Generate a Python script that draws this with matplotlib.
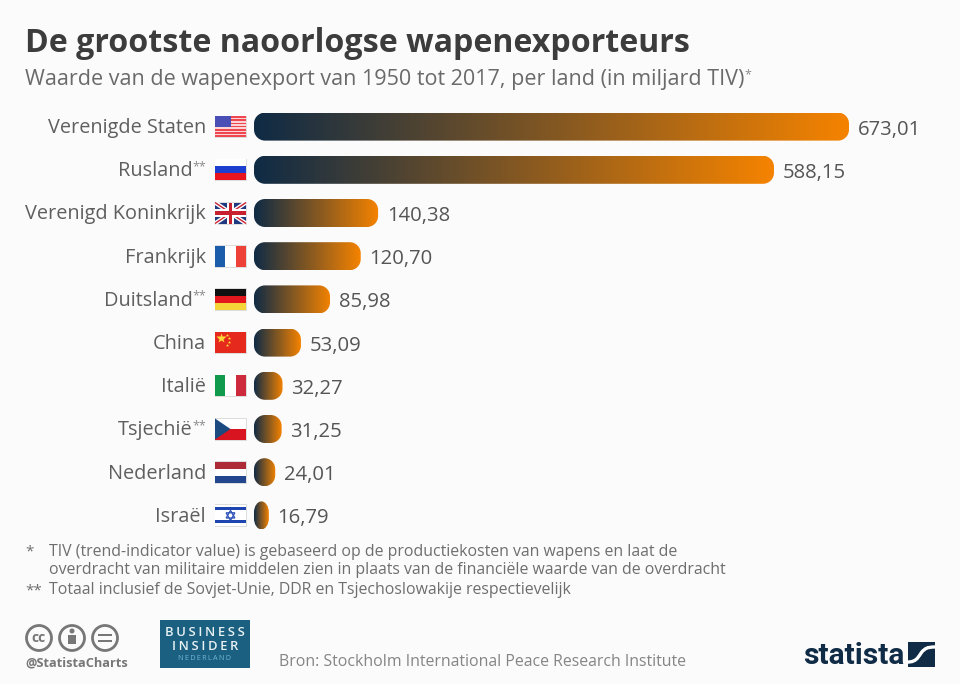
import numpy as np
import matplotlib
matplotlib.use('Agg')
import matplotlib.pyplot as plt
from matplotlib.colors import LinearSegmentedColormap
from matplotlib.patches import Rectangle, Circle, Polygon, PathPatch
from matplotlib.path import Path

plt.rcParams['font.family'] = ['Open Sans', 'DejaVu Sans']

countries = ['Verenigde Staten', 'Rusland', 'Verenigd Koninkrijk', 'Frankrijk', 'Duitsland',
             'China', 'Italië', 'Tsjechië', 'Nederland', 'Israël']
values = [673.01, 588.15, 140.38, 120.70, 85.98, 53.09, 32.27, 31.25, 24.01, 16.79]
has_note = [False, True, False, False, True, False, False, True, False, False]
flags = ['us', 'ru', 'uk', 'fr', 'de', 'cn', 'it', 'cz', 'nl', 'il']

title = 'De grootste naoorlogse wapenexporteurs'
subtitle = 'Waarde van de wapenexport van 1950 tot 2017, per land (in miljard TIV)'
notes = ['TIV (trend-indicator value) is gebaseerd op de productiekosten van wapens en laat de',
         'overdracht van militaire middelen zien in plaats van de financiële waarde van de overdracht',
         'Totaal inclusief de Sovjet-Unie, DDR en Tsjechoslowakije respectievelijk']
source = 'Bron: Stockholm International Peace Research Institute'

BG = '#fbfbfb'
NAVY = '#0f2b45'
W, H = 960, 684

fig = plt.figure(figsize=(9.6, 6.84), dpi=100, facecolor=BG)

# overlay in pixel coordinates for text, flags and logos
bg = fig.add_axes([0, 0, 1, 1])
bg.set_xlim(0, W)
bg.set_ylim(H, 0)
bg.axis('off')

# bar axes: x=254..849 px is 0..673.01
top, row = 105, 43.2
ax = fig.add_axes([254 / W, 1 - (top + row * 10) / H, 595 / W, row * 10 / H])
ax.set_xlim(0, 673.01)
ax.set_ylim(9.5, -0.5)
ax.axis('off')

cmap = LinearSegmentedColormap.from_list('bar', [NAVY, '#f58300'])
grad = np.linspace(0, 1, 256).reshape(1, -1)
ppu = 595 / 673.01


def rounded(x0, y0, w, h, rx, ry):
    k = 0.5523
    x1, y1 = x0 + w, y0 + h
    verts = [(x0 + rx, y0), (x1 - rx, y0),
             (x1 - rx + k * rx, y0), (x1, y0 + ry - k * ry), (x1, y0 + ry),
             (x1, y1 - ry),
             (x1, y1 - ry + k * ry), (x1 - rx + k * rx, y1), (x1 - rx, y1),
             (x0 + rx, y1),
             (x0 + rx - k * rx, y1), (x0, y1 - ry + k * ry), (x0, y1 - ry),
             (x0, y0 + ry),
             (x0, y0 + ry - k * ry), (x0 + rx - k * rx, y0), (x0 + rx, y0),
             (x0 + rx, y0)]
    codes = [Path.MOVETO, Path.LINETO, Path.CURVE4, Path.CURVE4, Path.CURVE4, Path.LINETO,
             Path.CURVE4, Path.CURVE4, Path.CURVE4, Path.LINETO,
             Path.CURVE4, Path.CURVE4, Path.CURVE4, Path.LINETO,
             Path.CURVE4, Path.CURVE4, Path.CURVE4, Path.CLOSEPOLY]
    return Path(verts, codes)


bars = ax.barh(range(len(values)), values, height=28 / row, facecolor='none', edgecolor='none')
for b in bars:
    x, y, w, h = b.get_x(), b.get_y(), b.get_width(), b.get_height()
    clip = PathPatch(rounded(x, y, w, h, min(11 / ppu, w / 2), 11 / row),
                     transform=ax.transData, facecolor='none', edgecolor='none')
    ax.add_patch(clip)
    im = ax.imshow(grad, cmap=cmap, extent=(x, x + w, y + h, y), aspect='auto', interpolation='bilinear')
    im.set_clip_path(clip)
ax.set_xlim(0, 673.01)
ax.set_ylim(9.5, -0.5)

for i, v in enumerate(values):
    ax.annotate(f'{v:.2f}'.replace('.', ','), (v, i), xytext=(6.3, -2.2), textcoords='offset points',
                va='center', ha='left', fontsize=14.6, color='#555555', annotation_clip=False)

ys = [top + row * (i + 0.5) for i in range(len(values))]

for name, y, n in zip(countries, ys, has_note):
    right = 193 if n else 206
    bg.text(right, y + 1.5, name, ha='right', va='center', fontsize=14.35, color='#5f5f5f')
    if n:
        bg.text(206, y - 3.5, '**', ha='right', va='center', fontsize=9, color='#8a8a8a')


def flag(kind, y):
    x0, x1, y0, y1 = 215, 246, y - 10.5, y + 10.5
    fw, fh = x1 - x0, y1 - y0
    z = 3
    bg.add_patch(Rectangle((x0 - 0.5, y0 - 0.5), fw + 1.5, fh + 1.5, fc='#dddddd', ec='none', zorder=2))

    def r(a, b, c, d, col):
        bg.add_patch(Rectangle((x0 + a * fw, y0 + b * fh), c * fw, d * fh, fc=col, ec='none', zorder=z))

    if kind == 'us':
        for k in range(13):
            r(0, k / 13, 1, 1 / 13, '#f0464f' if k % 2 == 0 else '#fbd5d5')
        r(0, 0, 0.5, 7 / 13, '#4a4fb5')
    elif kind == 'ru':
        r(0, 0, 1, 1 / 3, '#ffffff')
        r(0, 1 / 3, 1, 1 / 3, '#1c3fd0')
        r(0, 2 / 3, 1, 1 / 3, '#e8141e')
    elif kind == 'uk':
        r(0, 0, 1, 1, '#1f3a80')
        bg.plot([x0, x1], [y0, y1], color='white', lw=3, zorder=z, solid_capstyle='butt')
        bg.plot([x0, x1], [y1, y0], color='white', lw=3, zorder=z, solid_capstyle='butt')
        bg.plot([x0, x1], [y0, y1], color='#c8202f', lw=1, zorder=z, solid_capstyle='butt')
        bg.plot([x0, x1], [y1, y0], color='#c8202f', lw=1, zorder=z, solid_capstyle='butt')
        r(0.38, 0, 0.24, 1, '#ffffff')
        r(0, 0.33, 1, 0.34, '#ffffff')
        r(0.44, 0, 0.12, 1, '#c8202f')
        r(0, 0.4, 1, 0.2, '#c8202f')
    elif kind == 'fr':
        r(0, 0, 1 / 3, 1, '#1b5cab')
        r(1 / 3, 0, 1 / 3, 1, '#ffffff')
        r(2 / 3, 0, 1 / 3, 1, '#ee4238')
    elif kind == 'de':
        r(0, 0, 1, 1 / 3, '#111111')
        r(0, 1 / 3, 1, 1 / 3, '#e4171c')
        r(0, 2 / 3, 1, 1 / 3, '#f5d43a')
    elif kind == 'cn':
        r(0, 0, 1, 1, '#e5291c')
        bg.plot(x0 + 6, y0 + 6, marker='*', ms=7, color='#ffd83a', mec='none', zorder=z + 1)
        for a, b in [(12, 3), (14, 6), (14, 10), (12, 13)]:
            bg.plot(x0 + a, y0 + b, marker='*', ms=2.5, color='#ffd83a', mec='none', zorder=z + 1)
    elif kind == 'it':
        r(0, 0, 1 / 3, 1, '#119a4c')
        r(1 / 3, 0, 1 / 3, 1, '#ffffff')
        r(2 / 3, 0, 1 / 3, 1, '#cd2a3e')
    elif kind == 'cz':
        r(0, 0, 1, 0.5, '#ffffff')
        r(0, 0.5, 1, 0.5, '#d7141f')
        bg.add_patch(Polygon([(x0, y0), (x0 + 0.5 * fw, y), (x0, y1)], fc='#1a4a80', ec='none', zorder=z + 1))
    elif kind == 'nl':
        r(0, 0, 1, 1 / 3, '#ad2b36')
        r(0, 1 / 3, 1, 1 / 3, '#ffffff')
        r(0, 2 / 3, 1, 1 / 3, '#23478e')
    elif kind == 'il':
        r(0, 0, 1, 1, '#ffffff')
        r(0, 0.12, 1, 0.14, '#1f45b0')
        r(0, 0.74, 1, 0.14, '#1f45b0')
        cx = (x0 + x1) / 2
        for s in (1, -1):
            bg.add_patch(Polygon([(cx, y - s * 5), (cx - 4.4, y + s * 2.6), (cx + 4.4, y + s * 2.6)],
                                 fc='none', ec='#2a50b8', lw=0.9, zorder=z + 1))


for kind, y in zip(flags, ys):
    flag(kind, y)

# heading
bg.text(25, 44, title, fontsize=23.15, fontweight='bold', color='#3c3c3c', ha='left', va='center')
bg.text(25, 79, subtitle, fontsize=15.5, color='#6a6a6a', ha='left', va='center')
bg.text(744, 75, '*', fontsize=9, color='#8a8a8a', ha='left', va='center')

# footnotes
note_col = '#6e6e6e'
bg.text(25, 552, '*', fontsize=11, color=note_col, ha='left', va='center')
bg.text(49, 551.5, notes[0], fontsize=11.4, color=note_col, ha='left', va='center')
bg.text(49, 570.5, notes[1], fontsize=11.4, color=note_col, ha='left', va='center')
bg.text(25, 591, '**', fontsize=11, color=note_col, ha='left', va='center')
bg.text(49, 590.5, notes[2], fontsize=11.4, color=note_col, ha='left', va='center')

# cc icons
for cx in (39, 72, 105):
    bg.add_patch(Circle((cx, 638), 12.5, fc='none', ec='#777777', lw=2))
bg.text(39, 638, 'cc', fontsize=10, fontweight='bold', color='#777777', ha='center', va='center')
bg.add_patch(Circle((72, 631), 2.5, fc='#777777', ec='none'))
bg.add_patch(Rectangle((68, 635), 8, 9, fc='#777777', ec='none'))
bg.add_patch(Rectangle((98, 633.5), 14, 2.6, fc='#777777', ec='none'))
bg.add_patch(Rectangle((98, 639.5), 14, 2.6, fc='#777777', ec='none'))
bg.text(25, 663, '@StatistaCharts', fontsize=9.2, fontweight='bold', color='#777777', ha='left', va='center')

# business insider logo
bg.add_patch(Rectangle((160, 620), 90, 48, fc='#1b6080', ec='none'))
bg.text(205, 632.5, '\u2009'.join('BUSINESS'), fontsize=9.4, color='#e8f1f4', ha='center', va='center', fontweight='semibold')
bg.text(205, 646.5, '\u2009'.join('INSIDER'), fontsize=9.4, color='#e8f1f4', ha='center', va='center', fontweight='semibold')
bg.text(205, 658.5, '\u2009'.join('NEDERLAND'), fontsize=5.2, color='#6fb6d4', ha='center', va='center')

bg.text(279, 662.5, source, fontsize=11.45, color='#858585', ha='left', va='center')

# statista logo
bg.text(803, 656, 'statista', fontsize=21.5, fontweight='bold', family=['Roboto', 'DejaVu Sans'],
        color=NAVY, ha='left', va='center')
square = Rectangle((908, 642), 27, 25, fc=NAVY, ec='none')
bg.add_patch(square)
swoosh = PathPatch(Path([(906, 662), (919, 663), (919, 653), (924, 650), (927, 647), (931, 647), (937, 647)],
                        [Path.MOVETO, Path.CURVE4, Path.CURVE4, Path.CURVE4, Path.CURVE4, Path.CURVE4, Path.CURVE4]),
                   fc='none', ec='white', lw=2.4)
bg.add_patch(swoosh)
swoosh.set_clip_path(square)

fig.savefig('out.png', dpi=100, facecolor=BG)
